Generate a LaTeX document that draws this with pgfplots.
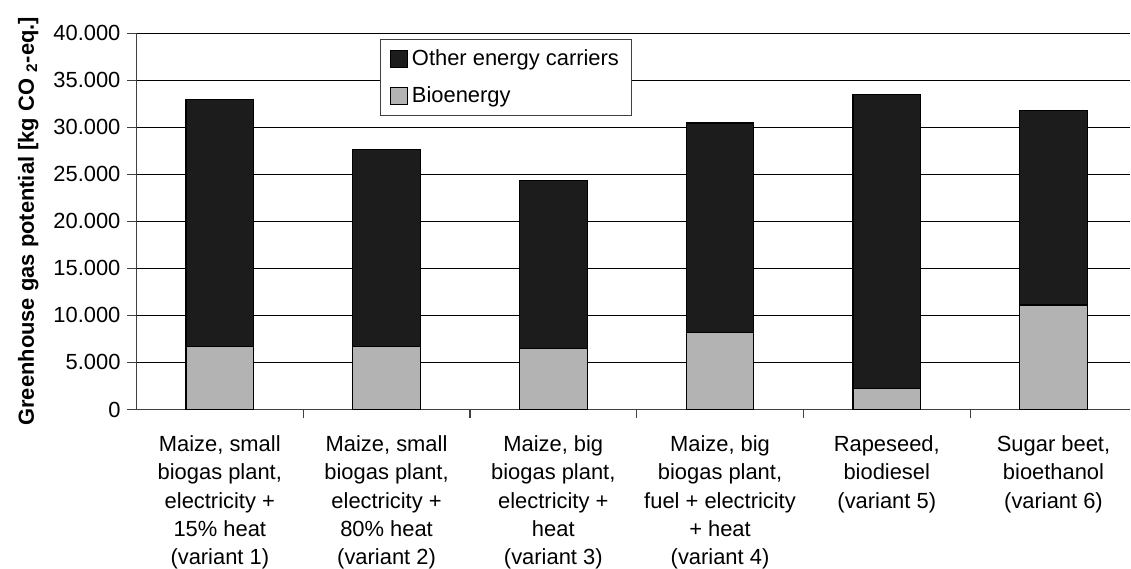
\documentclass[border={9pt 0pt 0pt 8.5pt}]{standalone}
\usepackage{fontspec}
\setmainfont{Liberation Sans}
\usepackage{pgfplots}
\pgfplotsset{compat=1.18}
\definecolor{darkbar}{HTML}{1C1C1C}
\definecolor{lightbar}{HTML}{B3B3B3}
\definecolor{axisgray}{HTML}{404040}

\pgfplotstableread{
x bio other
0 6700 26250
1 6700 20900
2 6500 17800
3 8200 22250
4 2250 31250
5 11100 20650
}\ghgdata

\begin{document}
\begin{tikzpicture}
\begin{axis}[
    scale only axis,
    width=499pt, height=189pt,
    ybar stacked,
    bar width=34pt,
    xmin=-0.5, xmax=5.46,
    ymin=0, ymax=40000,
    ytick={0,5000,...,40000},
    scaled y ticks=false,
    /pgf/number format/.cd, 1000 sep={.}, assume math mode=true,
    /pgfplots/.cd,
    yticklabel style={font=\fontsize{11}{13}\selectfont},
    ymajorgrids,
    grid style={black, line width=0.5pt},
    axis x line*=bottom,
    axis y line*=left,
    axis line style={axisgray, line width=0.8pt},
    tick align=outside,
    major tick length=4.5pt,
    tick style={axisgray, line width=0.6pt},
    xtick={0,...,5},
    major x tick style={draw=none},
    minor xtick={0.5,1.5,...,4.5},
    minor x tick style={axisgray, line width=0.6pt},
    minor tick length=4.5pt,
    xticklabels={
      {Maize, small\\biogas plant,\\electricity +\\15\% heat\\(variant 1)},
      {Maize, small\\biogas plant,\\electricity +\\80\% heat\\(variant 2)},
      {Maize, big\\biogas plant,\\electricity +\\heat\\(variant 3)},
      {Maize, big\\biogas plant,\\fuel + electricity\\+ heat\\(variant 4)},
      {Rapeseed,\\biodiesel\\(variant 5)},
      {Sugar beet,\\bioethanol\\(variant 6)}},
    xticklabel style={align=center, font=\fontsize{11}{14.15}\selectfont,
      inner ysep=0pt, yshift=-8.5pt},
    ylabel={\textbf{Greenhouse gas potential [kg CO \textsubscript{2}-eq.]}},
    ylabel style={font=\fontsize{11}{13}\selectfont, inner sep=0pt,
      at={(ticklabel cs:0.5,4pt)}},
    legend style={at={(0.2455,0.984)}, anchor=north west,
      draw=axisgray, line width=0.5pt,
      font=\fontsize{11}{13}\selectfont,
      row sep=5pt, inner xsep=4.5pt, inner ysep=3pt},
    legend cell align=left,
    reverse legend,
    legend image code/.code={
      \draw[#1, draw=black, line width=0.6pt] (0pt,-4.25pt) rectangle (8.5pt,4.25pt);},
]
\addplot[fill=lightbar, draw=black, line width=0.6pt] table[x=x, y=bio] {\ghgdata};
\addlegendentry{Bioenergy}
\addplot[fill=darkbar, draw=black, line width=0.6pt] table[x=x, y=other] {\ghgdata};
\addlegendentry{Other energy carriers}
\end{axis}
\end{tikzpicture}
\end{document}
